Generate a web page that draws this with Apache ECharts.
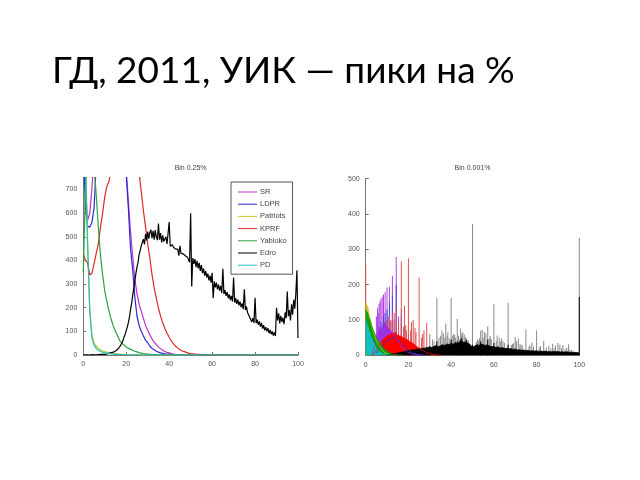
<!DOCTYPE html>
<html><head><meta charset="utf-8">
<script src="https://cdn.jsdelivr.net/npm/echarts@6/dist/echarts.min.js"></script>
<style>html,body{margin:0;padding:0;background:#fff}#c{width:640px;height:480px}</style>
</head><body><div id="c"></div>
<script>
// ---------- Left panel: Bin 0.25% (values at 1% steps, Edro at 0.5% steps) ----------
const seriesNames = ['SR','LDPR','Patriots','KPRF','Yabloko','Edro','PD'];
const leftXTicks = [0,20,40,60,80,100];
const leftYTicks = [0,100,200,300,400,500,600,700];
const rightYTicks = [0,100,200,300,400,500];

const srL = [900,700,570,600,700,850,900,900,900,900,
 900,900,900,900,900,900,900,900,900,900,
 780,650,520,420,320,260,215,185,155,125,
 105,85,68,54,44,34,27,20,15,11,
 8,6,4,3,2,2,1,1,1,0,
 1,0,0,1,0,0,0,1,0,0,
 0,0,1,0,0,0,0,0,1,0,
 0,0,0,0,0,1,0,0,0,0,
 0,0,0,0,0,0,0,0,0,0,
 0,0,0,0,0,0,0,0,0,0,1];
const ldprL = [900,620,545,540,560,620,800,900,900,900,
 900,900,900,900,900,900,900,900,900,900,
 760,620,450,360,245,165,125,100,80,63,
 52,38,28,22,16,12,9,7,5,4,
 3,2,2,1,1,1,0,1,0,0,
 0,1,0,0,0,0,1,0,0,0,
 0,0,0,1,0,0,0,0,0,0,
 0,1,0,0,0,0,0,0,0,0,
 0,0,0,0,0,0,0,0,0,0,
 0,0,0,0,0,0,0,0,0,0,0];
const patriotsL = [900,850,500,200,85,52,38,28,21,17,
 14,12,10,8,7,6,5,4,3,3,
 2,2,2,1,1,1,1,1,0,1,
 0,0,0,0,0,0,0,0,0,0,
 0,0,0,0,0,0,0,0,0,0,
 0,0,0,0,0,0,0,0,0,0,
 0,0,0,0,0,0,0,0,0,0,
 0,0,0,0,0,0,0,0,0,0,
 0,0,0,0,0,0,0,0,0,0,
 0,0,0,0,0,0,0,0,0,0,0];
const kprfL = [430,400,390,340,345,385,430,470,540,600,
 670,715,735,800,900,900,900,900,900,900,
 900,900,900,900,900,900,770,690,610,540,
 470,410,340,285,240,198,165,135,112,92,
 75,60,47,37,29,22,17,14,11,8,
 6,5,4,3,3,2,2,1,1,1,
 1,0,1,0,0,1,0,0,0,0,
 0,0,0,0,0,0,0,0,1,0,
 0,0,0,0,0,0,0,0,0,0,
 0,0,0,0,0,0,0,0,0,0,0];
const yablokoL = [350,700,900,900,900,800,680,540,420,340,
 270,225,185,150,122,100,80,60,50,42,
 34,28,24,20,16,13,10,8,6,5,
 4,3,3,2,2,1,1,1,1,1,
 1,0,0,0,0,0,0,0,0,0,
 0,0,0,0,0,0,0,0,0,0,
 0,0,0,0,0,0,0,0,0,0,
 0,0,0,0,0,0,0,0,0,0,
 0,0,0,0,0,0,0,0,0,0,
 0,0,0,0,0,0,0,0,0,0,0];
const pdL = [900,800,460,180,75,42,28,20,15,12,
 10,8,6,5,4,3,3,2,2,2,
 1,1,1,1,1,1,0,1,0,0,
 0,0,1,0,0,0,0,0,0,0,
 0,0,0,0,0,0,0,0,0,0,
 0,0,0,0,0,0,0,0,0,0,
 0,0,0,0,0,0,0,0,0,0,
 0,0,0,0,0,0,0,0,0,0,
 0,0,0,0,0,0,0,0,0,0,
 0,0,0,0,0,0,0,0,0,0,0];
const edroL = [1,0,1,0,1,1,0,1,2,1,1,2,1,2,2,1,3,2,3,2,3,
 5,4,6,7,8,10,9,12,14,17,
 19,24,28,35,42,52,62,76,88,104,
 118,138,160,192,218,252,280,312,345,372,
 392,425,428,462,460,490,468,512,485,522,
 492,518,530,494,525,488,528,500,486,556,
 488,516,476,506,480,478,500,470,468,562,
 460,462,466,456,455,448,450,448,420,462,
 430,428,428,422,420,414,414,416,392,600,
 290,410,385,406,372,398,366,390,356,380,
 346,366,336,356,328,344,316,336,306,348,
 240,312,286,306,278,298,272,292,262,365,
 258,274,250,266,240,256,232,250,226,328,
 222,240,216,234,210,226,202,218,194,278,
 190,205,180,184,160,164,140,156,136,242,
 134,150,128,142,120,136,112,126,104,118,
 100,114,92,106,88,100,82,96,80,200,
 146,176,134,166,140,158,130,180,156,268,
 164,190,146,214,170,234,196,262,358,72];

// ---------- Right panel: Bin 0.001% (envelopes of dense fill + tall single-bin spikes) ----------
const srBaseR = [[3,5],[3.5,12],[4,25],[4.5,38],[5,50],[5.5,58],[6,66],[6.5,62],[7,76],[7.5,70],[8,86],[8.5,80],[9,90],[9.5,82],[10,86],[10.5,78],[11,80],[11.5,70],[12,72],[12.5,64],[13,62],[13.5,55],[14,52],[15,42],[16,32],[17,24],[18,17],[19,12],[20,8],[22,4],[25,1],[27,0]];
const srSpikesR = [[5,110],[5.56,133],[5.88,120],[6.25,145],[6.67,152],[7.14,160],[7.69,166],[8.33,172],[8.7,95],[9.09,180],[9.52,100],[10,192],[10.53,110],[11.11,194],[11.76,100],[12.5,225],[13.33,120],[14.29,278],[15.38,110],[16.67,130],[18.18,60]];
const ldprBaseR = [[5,6],[6,14],[7,22],[8,30],[9,36],[10,42],[11,46],[12,48],[13,50],[14,48],[15,44],[16,38],[17,30],[18,24],[19,18],[20,13],[22,7],[24,3],[26,1],[28,0]];
const ldprSpikesR = [[6.25,80],[7.14,95],[8.33,110],[9.09,120],[10,130],[11.11,150],[12.5,170],[14.29,200],[16.67,110],[20,60]];
const patriotsBaseR = [[0,150],[0.5,146],[1,136],[1.5,120],[2,105],[2.5,92],[3,80],[3.5,70],[4,58],[5,42],[6,30],[7,20],[8,12],[9,7],[10,4],[12,1],[14,0]];
const kprfBaseR = [[3,2],[4,6],[4.5,10],[5,14],[5.5,20],[6,24],[6.5,30],[7,34],[7.5,38],[8,44],[8.5,40],[9,50],[9.5,46],[10,55],[10.5,50],[11,58],[11.5,52],[12,62],[12.5,56],[13,64],[13.5,58],[14,66],[14.5,58],[15,62],[15.5,55],[16,60],[16.5,54],[17,58],[17.5,50],[18,54],[18.5,46],[19,50],[19.5,44],[20,47],[20.5,40],[21,43],[21.5,36],[22,38],[22.5,32],[23,33],[23.5,27],[24,28],[24.5,22],[25,24],[25.5,18],[26,18],[27,13],[28,9],[29,6],[30,4],[32,2],[35,0]];
const kprfSpikesR = [[0,256],[7.14,60],[8.33,75],[9.09,85],[10,100],[11.11,110],[11.76,95],[12.5,120],[13.33,100],[14.29,140],[15.38,90],[16.67,266],[17.65,80],[18.18,140],[18.75,85],[19.05,70],[20,275],[21.05,70],[21.43,95],[22.22,100],[23.08,78],[23.53,65],[25,220],[26.09,50],[26.67,60],[27.27,70],[28.57,92]];
const yablokoBaseR = [[0,130],[0.5,124],[1,118],[1.5,106],[2,100],[2.5,88],[3,84],[3.5,72],[4,68],[4.5,58],[5,55],[5.5,46],[6,44],[6.5,36],[7,34],[7.5,27],[8,26],[8.5,19],[9,18],[9.5,13],[10,12],[11,8],[12,5],[13,3],[14,2],[16,1],[18,0]];
const edroBaseR = [[10,1],[11,2],[12,3],[13,4],[14,5],[15,6],[16,8],[17,9],[18,10],[19,12],[20,13],[21,14],[22,15],[23,16],[24,17],[25,18],[26,19],[27,20],[28,21],[29,22],[30,24],[31,22],[32,25],[33,28],[34,24],[35,27],[36,30],[37,28],[38,32],[39,30],[40,34],[41,31],[42,36],[43,33],[44,38],[45,40],[46,36],[47,38],[48,34],[49,30],[50,22],[51,26],[52,30],[53,28],[54,32],[55,30],[56,28],[57,30],[58,26],[59,24],[60,25],[61,22],[62,24],[63,20],[64,22],[65,19],[66,20],[67,18],[68,19],[69,16],[70,18],[71,15],[72,16],[73,14],[74,15],[75,13],[76,14],[77,12],[78,13],[79,12],[80,13],[81,11],[82,12],[83,11],[84,12],[85,10],[86,11],[87,10],[88,11],[89,10],[90,11],[91,9],[92,10],[93,9],[94,10],[95,9],[96,8],[97,9],[98,8],[99,8],[100,6]];
const edroSpikesR = [[30,60],[31.25,45],[32,40],[33.33,163],[34.29,50],[35,55],[35.71,70],[36.36,62],[37.04,50],[37.5,90],[38.1,55],[38.46,65],[39.13,48],[40,162],[40.74,55],[41.18,60],[41.67,58],[42.11,50],[42.86,103],[43.48,55],[44,45],[44.44,76],[45,62],[45.45,65],[46.15,58],[46.67,52],[47.06,48],[47.37,45],[48,42],[50,372],[51.85,38],[52.38,45],[52.94,42],[53.33,48],[53.85,70],[54.55,72],[55,50],[55.56,66],[56.25,62],[57.14,82],[57.89,48],[58.33,55],[58.82,45],[60,145],[61.11,40],[61.54,56],[62.5,50],[63.16,40],[63.64,48],[64.29,40],[65,35],[66.67,148],[68.18,30],[68.75,32],[69.23,35],[70,52],[70.59,40],[71.43,48],[72.22,32],[72.73,30],[73.33,28],[75,74],[76.47,25],[76.92,28],[77.78,36],[78.57,25],[80,70],[81.25,22],[81.82,26],[83.33,41],[84.62,22],[85.71,27],[86.67,20],[87.5,33],[88.24,20],[88.89,28],[90,35],[90.91,30],[91.67,20],[92.31,29],[93.33,18],[94.12,22],[95,31],[95.65,16],[96.3,15],[100,332]];
const edroDarkSpikesR = [[33.33,40],[40,45],[42.86,40],[44.44,45],[45,50],[47.06,44],[50,30],[53.85,40],[57.14,45],[60,35],[66.67,30],[100,165]];
const pdBaseR = [[0,100],[0.5,90],[1,80],[1.5,70],[2,62],[2.5,53],[3,45],[3.5,38],[4,32],[4.5,26],[5,22],[5.5,17],[6,14],[6.5,10],[7,8],[8,4],[9,2],[10,1],[12,0]];

const colors = {SR:'#c030c8', LDPR:'#2a2ad0', Patriots:'#c8c828', KPRF:'#e02828', Yabloko:'#2fa040', Edro:'#000000', PD:'#20c0c0'};
const colorsR = {SR:'#a030e0', LDPR:'#3030d0', Patriots:'#c8c820', KPRF:'#ff0000', Yabloko:'#10a010', Edro:'#000000', PD:'#10c0c0'};

function pairs(step, ys){ return ys.map((v,i)=>[i*step, v]); }
const leftData = {SR:srL, LDPR:ldprL, Patriots:patriotsL, KPRF:kprfL, Yabloko:yablokoL, Edro:edroL, PD:pdL};

const series = [];
seriesNames.forEach(n => {
  const step = n === 'Edro' ? 0.5 : 1;
  series.push({name:n, type:'line', xAxisIndex:0, yAxisIndex:0, data:pairs(step, leftData[n]),
    symbol:'none', lineStyle:{width:1.2, color:colors[n]}, itemStyle:{color:colors[n]}, clip:true, animation:false});
});
function areaSeries(n, data){
  return {name:n+' r', type:'line', xAxisIndex:1, yAxisIndex:1, data:data, symbol:'none',
    lineStyle:{width:0.8, color:colorsR[n]}, areaStyle:{color:colorsR[n], opacity:1}, itemStyle:{color:colorsR[n]}, animation:false};
}
function spikeSeries(n, data, col){
  return {name:n+' s', type:'bar', xAxisIndex:1, yAxisIndex:1, data:data, barWidth:1, barGap:'-100%',
    itemStyle:{color:col}, animation:false};
}
series.push(areaSeries('SR', srBaseR), spikeSeries('SR', srSpikesR, '#b040e0'));
series.push(areaSeries('LDPR', ldprBaseR), spikeSeries('LDPR', ldprSpikesR, '#4848d8'));
series.push(areaSeries('Patriots', patriotsBaseR));
series.push(areaSeries('KPRF', kprfBaseR), spikeSeries('KPRF', kprfSpikesR, '#e05050'));
series.push(areaSeries('Yabloko', yablokoBaseR));
series.push(areaSeries('Edro', edroBaseR), spikeSeries('Edro', edroSpikesR, '#8a8a8a'), spikeSeries('Edro2', edroDarkSpikesR, '#000'));
series.push(areaSeries('PD', pdBaseR));

const axisCommon = {
  axisLine:{show:true, lineStyle:{color:'#777', width:1}},
  axisTick:{show:true, inside:true, length:3, lineStyle:{color:'#777'}},
  axisLabel:{color:'#555', fontSize:7, fontFamily:'Liberation Sans', margin:6},
  splitLine:{show:false}
};
const chart = echarts.init(document.getElementById('c'), null, {renderer:'canvas'});
chart.setOption({
  animation:false,
  backgroundColor:'#fff',
  graphic:[
    {type:'text', x:52, y:71, style:{text:'ГД, 2011, УИК — пики на %', font:'37px Lato', fill:'#000', verticalAlign:'middle'}},
    {type:'text', x:190.6, y:168, style:{text:'Bin 0.25%', font:'7px "Liberation Sans"', fill:'#444', align:'center', verticalAlign:'middle'}},
    {type:'text', x:472.5, y:168, style:{text:'Bin 0.001%', font:'7px "Liberation Sans"', fill:'#444', align:'center', verticalAlign:'middle'}}
  ],
  legend:{
    data:seriesNames, orient:'vertical', left:231, top:182, padding:[5,6,4,7],
    itemWidth:19, itemHeight:1, itemGap:2.2, icon:'rect',
    borderColor:'#555', borderWidth:1, backgroundColor:'#fff',
    textStyle:{color:'#444', fontSize:7.5, fontFamily:'Liberation Sans', lineHeight:10, padding:[0,0,0,-2]},
    selectedMode:false
  },
  grid:[
    {left:83.3, top:177.7, width:214.7, height:177.3, containLabel:false},
    {left:365.7, top:178.7, width:213.6, height:176.6, containLabel:false}
  ],
  xAxis:[
    Object.assign({type:'value', gridIndex:0, min:leftXTicks[0], max:leftXTicks[leftXTicks.length-1], interval:20}, axisCommon),
    Object.assign({type:'value', gridIndex:1, min:0, max:100, interval:20}, axisCommon)
  ],
  yAxis:[
    Object.assign({type:'value', gridIndex:0, min:0, max:750, interval:100,
      axisLabel:Object.assign({}, axisCommon.axisLabel, {formatter:v => leftYTicks.includes(v) ? String(v) : ''})}, {axisLine:axisCommon.axisLine, axisTick:axisCommon.axisTick, splitLine:{show:false}}),
    Object.assign({type:'value', gridIndex:1, min:0, max:rightYTicks[rightYTicks.length-1], interval:100}, axisCommon)
  ],
  series:series
});
</script></body></html>
